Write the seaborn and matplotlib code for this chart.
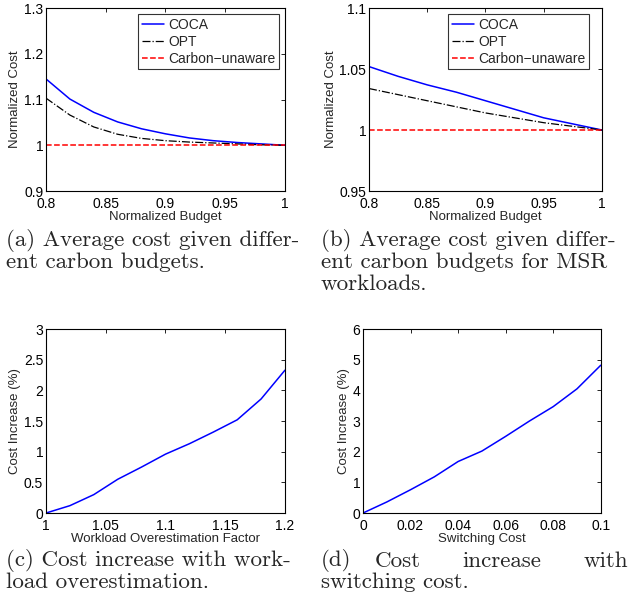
import numpy as np
import pandas as pd
import seaborn as sb
import matplotlib.pyplot as plt

# Данные

budget_a = [0.8, 0.82, 0.84, 0.86, 0.88, 0.9, 0.92, 0.94, 0.96, 0.98, 1.0]
coca_a = [1.145, 1.101, 1.072, 1.051, 1.036, 1.025, 1.016, 1.010, 1.006, 1.003, 1.0]
opt_a = [1.103, 1.066, 1.040, 1.024, 1.015, 1.010, 1.007, 1.005, 1.003, 1.001, 1.0]
unaware_a = [1.0] * len(budget_a)

budget_b = [0.8, 0.825, 0.85, 0.875, 0.9, 0.925, 0.95, 0.975, 1.0]
coca_b = [1.052, 1.044, 1.037, 1.031, 1.024, 1.017, 1.010, 1.005, 1.0]
opt_b = [1.034, 1.029, 1.024, 1.019, 1.014, 1.010, 1.006, 1.003, 1.0]
unaware_b = [1.0] * len(budget_b)

factor_c = [1.0, 1.02, 1.04, 1.06, 1.08, 1.1, 1.12, 1.14, 1.16, 1.18, 1.2]
increase_c = [0.0, 0.12, 0.30, 0.55, 0.75, 0.96, 1.13, 1.32, 1.52, 1.86, 2.33]

switch_d = [0.0, 0.01, 0.02, 0.03, 0.04, 0.05, 0.06, 0.07, 0.08, 0.09, 0.1]
increase_d = [0.0, 0.36, 0.76, 1.18, 1.68, 2.02, 2.50, 3.00, 3.47, 4.05, 4.82]

caption_a = ["(a) Average cost given differ-", "ent carbon budgets."]
caption_b = ["(b) Average cost given differ-", "ent carbon budgets for MSR", "workloads."]
caption_c = ["(c) Cost increase with work-", "load overestimation."]
caption_d1 = ["(d)", "Cost", "increase", "with"]
caption_d2 = "switching cost."

sb.set_style("white")
plt.rcParams['font.family'] = ['Liberation Sans', 'DejaVu Sans']

fig = plt.figure(figsize=(6.29, 6.02), dpi=100)

ax_a = fig.add_axes([0.0731, 0.6827, 0.380, 0.304])
ax_b = fig.add_axes([0.5866, 0.6827, 0.3704, 0.304])
ax_c = fig.add_axes([0.0731, 0.1478, 0.380, 0.3056])
ax_d = fig.add_axes([0.5771, 0.1478, 0.378, 0.3056])


def style(ax):
    ax.tick_params(direction="in", top=True, right=True, length=3, width=0.6,
                   labelsize=10, colors="black")
    ax.tick_params(axis="x", pad=4)
    ax.tick_params(axis="y", pad=2)
    for s in ax.spines.values():
        s.set_linewidth(0.8)
        s.set_color("black")
        s.set_visible(True)


# (a) и (b)

for ax, x, coca, opt, unaware, anchor in [(ax_a, budget_a, coca_a, opt_a, unaware_a, 1.0),
                                          (ax_b, budget_b, coca_b, opt_b, unaware_b, 0.97)]:
    sb.lineplot(x=x, y=coca, ax=ax, color="blue", linewidth=1.1, label="COCA")
    sb.lineplot(x=x, y=opt, ax=ax, color="black", linewidth=0.9, linestyle="-.", label="OPT")
    sb.lineplot(x=x, y=unaware, ax=ax, color="red", linewidth=1.1, linestyle="--", label="Carbon\u2212unaware")
    ax.set_xlim(0.8, 1.0)
    ax.set_xticks([0.8, 0.85, 0.9, 0.95, 1.0])
    ax.set_xticklabels(["0.8", "0.85", "0.9", "0.95", "1"])
    ax.set_xlabel("Normalized Budget", fontsize=9.5, labelpad=0)
    ax.set_ylabel("Normalized Cost", fontsize=9.5, labelpad=2)
    leg = ax.legend(loc="upper right", bbox_to_anchor=(anchor, 1.0), fontsize=10,
                    frameon=True, fancybox=False, borderpad=0.25, labelspacing=0.22,
                    handlelength=1.6, handletextpad=0.3, borderaxespad=0.45)
    leg.get_frame().set_edgecolor("black")
    leg.get_frame().set_linewidth(0.8)
    style(ax)

ax_a.set_ylim(0.9, 1.3)
ax_a.set_yticks([0.9, 1.0, 1.1, 1.2, 1.3])
ax_a.set_yticklabels(["0.9", "1", "1.1", "1.2", "1.3"])
ax_b.set_ylim(0.95, 1.1)
ax_b.set_yticks([0.95, 1.0, 1.05, 1.1])
ax_b.set_yticklabels(["0.95", "1", "1.05", "1.1"])

# (c)

sb.lineplot(x=factor_c, y=increase_c, ax=ax_c, color="blue", linewidth=1.1)
ax_c.set_xlim(1.0, 1.2)
ax_c.set_ylim(0, 3)
ax_c.set_xticks([1.0, 1.05, 1.1, 1.15, 1.2])
ax_c.set_xticklabels(["1", "1.05", "1.1", "1.15", "1.2"])
ax_c.set_yticks([0, 0.5, 1, 1.5, 2, 2.5, 3])
ax_c.set_yticklabels(["0", "0.5", "1", "1.5", "2", "2.5", "3"])
ax_c.set_xlabel("Workload Overestimation Factor", fontsize=9.5, labelpad=0)
ax_c.set_ylabel("Cost Increase (%)", fontsize=9.5, labelpad=2)
style(ax_c)

# (d)

sb.lineplot(x=switch_d, y=increase_d, ax=ax_d, color="blue", linewidth=1.1)
ax_d.set_xlim(0, 0.1)
ax_d.set_ylim(0, 6)
ax_d.set_xticks([0, 0.02, 0.04, 0.06, 0.08, 0.1])
ax_d.set_xticklabels(["0", "0.02", "0.04", "0.06", "0.08", "0.1"])
ax_d.set_yticks([0, 1, 2, 3, 4, 5, 6])
ax_d.set_xlabel("Switching Cost", fontsize=9.5, labelpad=0)
ax_d.set_ylabel("Cost Increase (%)", fontsize=9.5, labelpad=2)
style(ax_d)

# Подписи

cap_font = dict(family=["cmr10", "DejaVu Serif"], fontsize=16.6, va="center", ha="left")
H = 602.0


def caption(lines, x, y0):
    for i, line in enumerate(lines):
        fig.text(x / 629.0, 1 - (y0 + 21.5 * i) / H, line, **cap_font)


caption(caption_a, 6, 241)
caption(caption_b, 321, 241)
caption(caption_c, 6, 561)
# (d) выровнено по ширине
for word, xp in zip(caption_d1, [321, 375, 462, 584]):
    fig.text(xp / 629.0, 1 - 561 / H, word, **cap_font)
fig.text(321 / 629.0, 1 - 582.5 / H, caption_d2, **cap_font)

plt.savefig("out.png", dpi=100)
